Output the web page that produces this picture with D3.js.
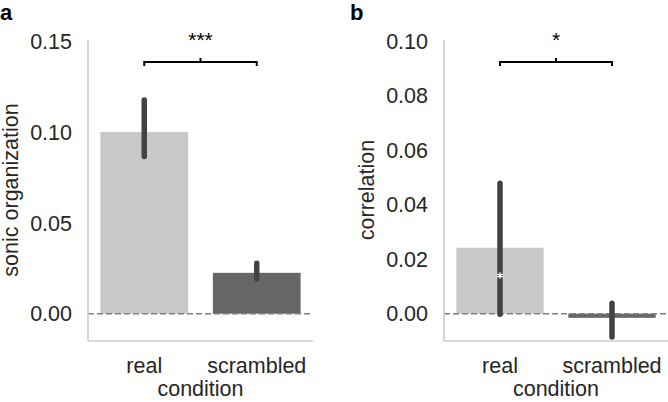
<!DOCTYPE html>
<html>
<head>
<meta charset="utf-8">
<script src="https://d3js.org/d3.v7.min.js"></script>
<style>
  body { margin: 0; background: #fff; }
  text { font-family: "Liberation Sans", Arial, sans-serif; fill: #262626; }
</style>
</head>
<body>
<script>
// categories and values
const conditions = ["real", "scrambled"];
const barColors = ["#c8c8c8", "#666666"];

const sonicMean = [0.100, 0.0225];
const sonicLow  = [0.0865, 0.0192];
const sonicHigh = [0.1175, 0.0278];
const sonicTicks = [0.00, 0.05, 0.10, 0.15];

const corrMean = [0.0242, -0.0015];
const corrLow  = [-0.0002, -0.0085];
const corrHigh = [0.0478, 0.0038];
const corrMedian = [0.0140, null];
const corrTicks = [0.00, 0.02, 0.04, 0.06, 0.08, 0.10];

const svg = d3.select("body").append("svg")
  .attr("width", 668).attr("height", 402);

function panel(opt) {
  const x = d3.scaleBand().domain(conditions).range([opt.left, opt.right]);
  const y = d3.scaleLinear().domain(opt.domain).range([341, 41]);
  const g = svg.append("g");
  const bw = x.bandwidth() * 0.78;

  // bars
  g.selectAll("rect.bar").data(conditions).join("rect")
    .attr("x", d => x(d) + (x.bandwidth() - bw) / 2)
    .attr("width", bw)
    .attr("y", (d, i) => Math.min(y(opt.mean[i]), y(0)))
    .attr("height", (d, i) => Math.abs(y(opt.mean[i]) - y(0)))
    .attr("fill", (d, i) => barColors[i]);

  // zero line
  g.append("line")
    .attr("x1", opt.left).attr("x2", opt.right)
    .attr("y1", y(0)).attr("y2", y(0))
    .attr("stroke", "#808080").attr("stroke-width", 1.7)
    .attr("stroke-dasharray", "6,3");

  // error bars
  g.selectAll("line.err").data(conditions).join("line")
    .attr("x1", d => x(d) + x.bandwidth() / 2)
    .attr("x2", d => x(d) + x.bandwidth() / 2)
    .attr("y1", (d, i) => y(opt.low[i]))
    .attr("y2", (d, i) => y(opt.high[i]))
    .attr("stroke", "#424242").attr("stroke-width", 5.5)
    .attr("stroke-linecap", "round");

  if (opt.median) {
    g.selectAll("path.med").data(conditions.filter((d, i) => opt.median[i] != null)).join("path")
      .attr("transform", (d) => "translate(" + (x(d) + x.bandwidth() / 2) + "," + y(opt.median[conditions.indexOf(d)]) + ")")
      .attr("d", d3.symbol(d3.symbolAsterisk, 28))
      .attr("stroke", "#fff").attr("stroke-width", 1.3).attr("fill", "none");
  }

  // spines
  g.append("line").attr("x1", opt.left).attr("x2", opt.left)
    .attr("y1", 40).attr("y2", 341).attr("stroke", "#cccccc").attr("stroke-width", 1.6);
  g.append("line").attr("x1", opt.left).attr("x2", opt.right)
    .attr("y1", 341).attr("y2", 341).attr("stroke", "#cccccc").attr("stroke-width", 1.6);

  // y tick labels
  g.selectAll("text.yt").data(opt.ticks).join("text")
    .attr("x", opt.left - 16).attr("y", d => y(d)).attr("dy", "0.36em")
    .attr("text-anchor", "end").style("font-size", "21.5px")
    .text(d => d3.format(".2f")(d));

  // x tick labels
  g.selectAll("text.xt").data(conditions).join("text")
    .attr("x", d => x(d) + x.bandwidth() / 2).attr("y", 373)
    .attr("text-anchor", "middle").style("font-size", "21.5px")
    .text(d => d);

  g.append("text").attr("x", (opt.left + opt.right) / 2).attr("y", 396)
    .attr("text-anchor", "middle").style("font-size", "21.5px").text("condition");

  g.append("text")
    .attr("transform", "translate(" + opt.ylabX + ",190) rotate(-90)")
    .attr("text-anchor", "middle").style("font-size", "21.5px").text(opt.ylabel);

  // panel letter
  g.append("text").attr("x", opt.letterX).attr("y", 20)
    .style("font-size", "22px").style("font-weight", "bold").style("fill", "#000")
    .text(opt.letter);

  // significance bracket
  const x0 = x(conditions[0]) + x.bandwidth() / 2;
  const x1 = x(conditions[1]) + x.bandwidth() / 2;
  const xm = (x0 + x1) / 2;
  g.append("path")
    .attr("d", `M${x0},66V62H${x1}V66M${xm},62V58`)
    .attr("fill", "none").attr("stroke", "#000").attr("stroke-width", 2);
  g.append("text").attr("x", xm).attr("y", 47)
    .attr("text-anchor", "middle").style("font-size", "21px").style("fill", "#000")
    .text(opt.stars);
}

panel({
  left: 88, right: 313, domain: [-0.015, 0.15], ticks: sonicTicks,
  mean: sonicMean, low: sonicLow, high: sonicHigh,
  ylabel: "sonic organization", ylabX: 18, letter: "a", letterX: 0, stars: "***"
});

panel({
  left: 444, right: 668, domain: [-0.01, 0.10], ticks: corrTicks,
  mean: corrMean, low: corrLow, high: corrHigh, median: corrMedian,
  ylabel: "correlation", ylabX: 374, letter: "b", letterX: 350, stars: "*"
});
</script>
</body>
</html>
